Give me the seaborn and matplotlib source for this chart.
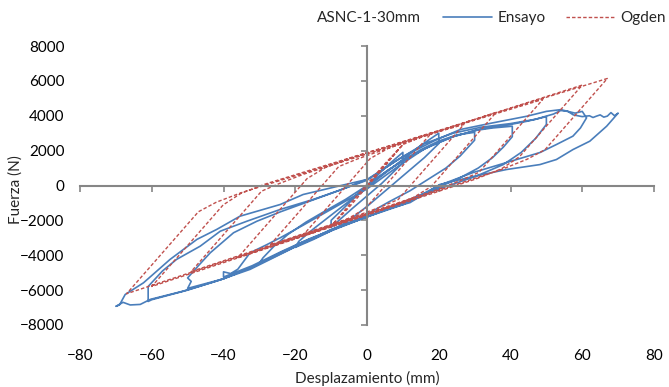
import numpy as np
import pandas as pd
import matplotlib
matplotlib.use("Agg")
import matplotlib.pyplot as plt
import seaborn as sns
from matplotlib.lines import Line2D

ens_c10_x = [0, 3, 6, 10, 10, 7, 4, 0, -4, -7, -10, -10, -7, -4, 0]
ens_c10_y = [0, 600, 1200, 1900, 1300, 700, 100, -600, -1300, -1850, -2400, -2000, -1400, -800, -100]

ens_c20_x = [0, 5, 10, 15, 20, 20, 16, 12, 8, 4, 0, -5, -10, -15, -20, -19, -15, -10, -5, 0]
ens_c20_y = [-100, 700, 1500, 2300, 3000, 2400, 1600, 900, 200, -500, -1200, -2000, -2600, -3100, -3550,
             -3200, -2500, -1700, -900, 0]

ens_c30_x = [0, 5, 10, 15, 20, 25, 30, 30, 26, 22, 17, 12, 6, 0, -6, -12, -18, -24, -30, -29, -26, -22,
             -17, -12, -6, 0]
ens_c30_y = [0, 750, 1450, 2050, 2550, 2900, 3050, 2600, 1700, 1000, 350, -300, -950, -1650, -2250, -2750,
             -3250, -3850, -4450, -4150, -3500, -2800, -2100, -1500, -800, 0]

ens_c40_x = [0, 6, 12, 18, 24, 30, 35, 40.5, 40.5, 38, 35, 31, 26, 20, 13, 6, 0, -8, -16, -24, -32, -40,
             -40, -38, -36, -32.6, -28, -24.2, -18, -12, -6, 0]
ens_c40_y = [0, 900, 1650, 2300, 2800, 3150, 3300, 3400, 2800, 2200, 1600, 1000, 450, -100, -700, -1300,
             -1800, -2400, -3050, -3800, -4600, -5250, -4950, -5050, -4800, -3860, -3400, -3000, -2300,
             -1600, -900, -200]

ens_c50_x = [0, 8, 16, 24, 32, 40, 45, 50, 50, 47, 43, 38, 30, 20, 10, 0, -10, -20, -30, -40, -50, -49,
             -50, -47, -43.7, -37.2, -30.7, -24, -16, -8, 0]
ens_c50_y = [-200, 1000, 2100, 2800, 3250, 3500, 3700, 3950, 3500, 2700, 1900, 1200, 500, -200, -1050,
             -1800, -2600, -3500, -4500, -5350, -5900, -5500, -5300, -4600, -3860, -2710, -2050, -1500,
             -900, -300, 300]

ens_c60_x = [0, 8, 16, 24, 32, 40, 47, 52, 54, 56, 58, 60, 61.2, 59.5, 57.4, 52.8, 48.2, 38.9, 29.6, 20,
             10, 0, -10, -20, -30, -40, -50, -60, -61, -61, -57, -53.1, -46.5, -40.9, -33.5, -24.2, -15,
             -8, 0]
ens_c60_y = [300, 1400, 2400, 3000, 3350, 3550, 3800, 4100, 4300, 4250, 4150, 4250, 3880, 3300, 2830,
             2350, 1890, 1320, 745, 0, -1100, -1800, -2550, -3450, -4500, -5350, -6000, -6550, -6650,
             -5790, -4900, -4240, -3480, -2620, -2050, -1375, -800, -300, 350]

ens_c70_x = [0, 10, 19.5, 26, 35, 44.5, 50, 54, 56, 57.5, 60, 62, 63, 64, 65, 66, 67, 68, 69, 70, 66.8,
             62.1, 57.4, 52.8, 48.2, 38.9, 29.6, 20.3, 12, 7.3, 0, -10, -19.6, -24.2, -32.6, -41.9, -51.2,
             -60.4, -63.2, -66, -68, -70, -69, -67.4, -62.3, -54.9, -47.4, -41.9, -35.4, -24.2, -17.8,
             -8.4, 0]
ens_c70_y = [344, 1660, 2640, 3210, 3590, 3970, 4250, 4350, 4250, 4050, 3950, 4000, 3900, 3980, 4050,
             3920, 3980, 4180, 4000, 4150, 3400, 2540, 2060, 1490, 1200, 917, 516, 57, -980, -1260,
             -1750, -2520, -3480, -3950, -4810, -5480, -6055, -6530, -6820, -6850, -6700, -6930, -6850,
             -6250, -5580, -4240, -3090, -2520, -1760, -1090, -516, -57, 344]

# Modelo de Ogden
ogd_c10_x = [0, 5, 10, 2, -5, -10, -2, 5, 10]
ogd_c10_y = [0, 1175, 2350, 400, -1250, -2330, -400, 1250, 2350]

ogd_c18_x = [18, 6.7, -0.5, -5.5, -12.5, -18, -8.6, 0.9, 5.9, 12.9]
ogd_c18_y = [3022, 367, -1326, -1924, -2500, -2894, -685, 1548, 2128, 2676]

ogd_c27_x = [27, 15.8, 8.7, 3.7, -3.3, -27, -17.5, -7.9, -2.9, 4.1]
ogd_c27_y = [3498, 866, -803, -1238, -1774, -3406, -1174, 1083, 1504, 2012]

ogd_c36_x = [36, 24.9, 17.9, 12.9, 5.9, -36, -26.4, -16.7, -11.7, -4.7]
ogd_c36_y = [4194, 1586, -60, -693, -1269, -4138, -1882, 397, 1021, 1569]

ogd_c49_x = [49, 38.1, 31.2, 26.2, 19.2, -49, -39.3, -29.4, -24.4, -17.4]
ogd_c49_y = [4936, 2374, 753, 302, -274, -4932, -2652, -326, 118, 666]

ogd_c60_x = [60, 49.3, 42.5, 37.5, 30.5, -60, -50.1, -40.1, -35.1, -28.1]
ogd_c60_y = [5760, 3246, 1650, 960, 384, -5790, -3464, -1114, -446, 102]

ogd_c67_x = [67, 56.3, 49.6, 44.6, 37.6, -67, -57.1, -47, -42, -35, 0]
ogd_c67_y = [6138, 3624, 2050, 1503, 927, -6206, -3880, -1506, -958, -410, 1850]

x_ticks = [-80, -60, -40, -20, 0, 20, 40, 60, 80]
y_ticks = [-8000, -6000, -4000, -2000, 0, 2000, 4000, 6000, 8000]

ens_ciclos = [(ens_c10_x, ens_c10_y), (ens_c20_x, ens_c20_y), (ens_c30_x, ens_c30_y),
              (ens_c40_x, ens_c40_y), (ens_c50_x, ens_c50_y), (ens_c60_x, ens_c60_y),
              (ens_c70_x, ens_c70_y)]
ogd_ciclos = [(ogd_c10_x, ogd_c10_y), (ogd_c18_x, ogd_c18_y), (ogd_c27_x, ogd_c27_y),
              (ogd_c36_x, ogd_c36_y), (ogd_c49_x, ogd_c49_y), (ogd_c60_x, ogd_c60_y),
              (ogd_c67_x, ogd_c67_y)]


def to_frame(ciclos):
    xs = np.concatenate([np.asarray(c[0], float) for c in ciclos])
    ys = np.concatenate([np.asarray(c[1], float) for c in ciclos])
    return pd.DataFrame({"Desplazamiento": xs, "Fuerza": ys})


ens_df = to_frame(ens_ciclos)
ogd_df = to_frame(ogd_ciclos)

sns.set_theme(style="white")
plt.rcParams["font.family"] = ["Lato", "DejaVu Sans"]

AXIS_GREY = "#868686"
BLUE = "#4A7EBB"
RED = "#C0504D"

fig = plt.figure(figsize=(6.69, 3.87), dpi=100)
pos = [80 / 669, 1 - 325 / 387, (654 - 80) / 669, (325 - 46) / 387]

# axes for the tick labels (Excel puts them at the low end)
lab = fig.add_axes(pos)
lab.set_xlim(-80, 80)
lab.set_ylim(-8000, 8000)
lab.set_xticks(x_ticks)
lab.set_yticks(y_ticks)
lab.tick_params(length=0, labelsize=11, colors="#000000")
lab.tick_params(axis="x", pad=17)
lab.tick_params(axis="y", pad=11)
for s in lab.spines.values():
    s.set_visible(False)
lab.patch.set_visible(False)
lab.set_xlabel("Desplazamiento (mm)", fontsize=11)
lab.set_ylabel("Fuerza (N)", fontsize=11)
lab.xaxis.set_label_coords(0.5, -0.165)
lab.yaxis.set_label_coords(-0.1, 0.485)

ax = fig.add_axes(pos)
ax.patch.set_visible(False)
sns.lineplot(data=ens_df, x="Desplazamiento", y="Fuerza", sort=False, estimator=None,
             color=BLUE, lw=1.2, ax=ax)
sns.lineplot(data=ogd_df, x="Desplazamiento", y="Fuerza", sort=False, estimator=None,
             color=RED, lw=1.0, linestyle=(0, (2.5, 1.5)), ax=ax)

ax.set_xlim(-80, 80)
ax.set_ylim(-8000, 8000)
ax.set_xticks(x_ticks)
ax.set_yticks(y_ticks)
ax.set_xlabel("")
ax.set_ylabel("")
ax.spines["left"].set_position(("data", 0))
ax.spines["bottom"].set_position(("data", 0))
ax.spines["right"].set_visible(False)
ax.spines["top"].set_visible(False)
for side in ("left", "bottom"):
    ax.spines[side].set_color(AXIS_GREY)
    ax.spines[side].set_linewidth(1.5)
ax.tick_params(direction="out", length=4, width=1.2, color=AXIS_GREY,
               labelleft=False, labelbottom=False, left=True, bottom=True)

fig.text(369 / 669, 1 - 18 / 387, "ASNC-1-30mm", ha="center", va="center", fontsize=11)

handles = [Line2D([], [], color=BLUE, lw=1.2),
           Line2D([], [], color=RED, lw=1.0, linestyle=(0, (2.5, 1.5)))]
fig.legend(handles, ["Ensayo", "Ogden"], loc="center right", bbox_to_anchor=(1.005, 1 - 18 / 387),
           ncol=2, frameon=False, fontsize=11, handlelength=3.2, handletextpad=0.4,
           columnspacing=1.3, borderaxespad=0)

fig.savefig("out.png", dpi=100)
